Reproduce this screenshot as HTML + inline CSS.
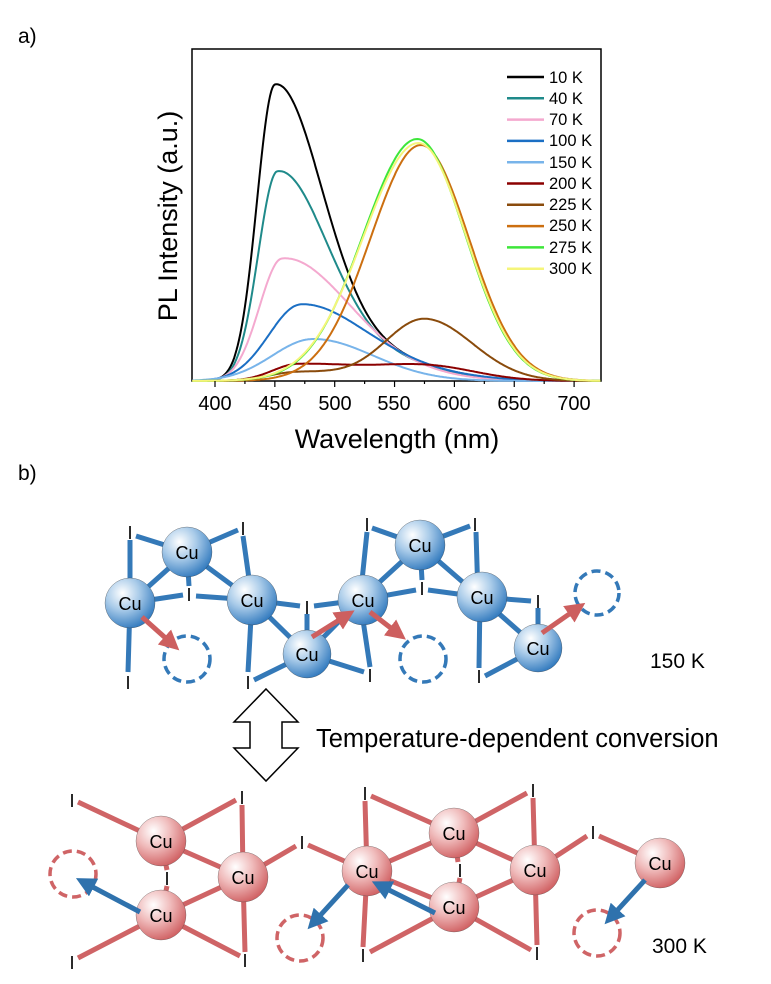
<!DOCTYPE html>
<html><head><meta charset="utf-8"><style>
html,body{margin:0;padding:0;background:#fff;}
svg{display:block;font-family:"Liberation Sans",Arial,sans-serif;}
</style></head><body>
<svg id="s" width="771" height="984" viewBox="0 0 771 984" xmlns="http://www.w3.org/2000/svg">
<defs>
<radialGradient id="gb" cx="0.35" cy="0.3" r="0.75"><stop offset="0" stop-color="#ffffff"/><stop offset="0.45" stop-color="#a9cbe9"/><stop offset="1" stop-color="#2f78bd"/></radialGradient>
<radialGradient id="gr" cx="0.35" cy="0.3" r="0.75"><stop offset="0" stop-color="#ffffff"/><stop offset="0.45" stop-color="#f0bcbc"/><stop offset="1" stop-color="#cf5e60"/></radialGradient>
<marker id="mr" markerWidth="4" markerHeight="4" refX="1.5" refY="2" orient="auto" markerUnits="strokeWidth"><path d="M0,0 L4,2 L0,4 z" fill="#cd5f5f"/></marker>
<marker id="mb" markerWidth="4" markerHeight="4" refX="1.5" refY="2" orient="auto" markerUnits="strokeWidth"><path d="M0,0 L4,2 L0,4 z" fill="#2f72ad"/></marker>
</defs>
<text x="18" y="43" font-size="21">a)</text>
<text x="18" y="480" font-size="21">b)</text>
<rect x="192" y="49" width="409" height="332" fill="none" stroke="#000" stroke-width="1.5"/>
<g id="curves" fill="none" stroke-width="2"></g>
<g id="ticks" stroke="#000" stroke-width="1.2"></g>
<g font-size="20" text-anchor="middle">
<text x="215" y="410">400</text><text x="275" y="410">450</text><text x="335" y="410">500</text><text x="394" y="410">550</text><text x="454" y="410">600</text><text x="514" y="410">650</text><text x="574" y="410">700</text>
</g>
<text x="397" y="448" font-size="27" text-anchor="middle">Wavelength (nm)</text>
<text transform="translate(177,216) rotate(-90)" font-size="27" text-anchor="middle">PL Intensity (a.u.)</text>
<g id="legend"></g>
<g font-size="16.5">
<text x="549" y="83">10 K</text><text x="549" y="104">40 K</text><text x="549" y="125">70 K</text><text x="549" y="146">100 K</text><text x="549" y="168">150 K</text><text x="549" y="189">200 K</text><text x="549" y="210">225 K</text><text x="549" y="231">250 K</text><text x="549" y="253">275 K</text><text x="549" y="274">300 K</text>
</g>
<path fill="none" stroke="#3479b8" stroke-width="5" d="M130 540 L130 603 L128 672 M136 536 L187 552 M187 552 L238 530 M243 536 L252 600 M187 552 L130 603 M187 552 L189 586 M130 603 L183 595 M196 596 L252 600 M187 552 L252 600 M252 600 L248 672 M252 600 L307 654 M252 600 L300 606 M314 606 L360 600 M307 614 L307 654 M307 654 L254 680 M307 654 L364 672 M307 654 L360 600 M367 532 L360 600 M360 600 L370 667 M360 600 L420 545 M372 528 L420 545 M360 600 L416 590 M428 590 L480 597 M420 545 L470 526 M420 545 L480 597 M420 545 L422 580 M476 532 L478 597 M480 597 L531 601 M538 608 L538 648 M480 597 L538 648 M480 597 L479 668 M485 676 L538 648"/>
<g fill="none" stroke="#3479b8" stroke-width="3.5" stroke-dasharray="9 5">
<circle cx="187" cy="659" r="23"/><circle cx="423" cy="659" r="23"/><circle cx="597" cy="593" r="22"/>
</g>
<g stroke="#333" stroke-width="0.3" fill="url(#gb)">
<circle cx="187" cy="552" r="25"/><circle cx="130" cy="603" r="25"/><circle cx="252" cy="600" r="25"/><circle cx="307" cy="654" r="24"/><circle cx="363" cy="600" r="25"/><circle cx="420" cy="545" r="25"/><circle cx="482" cy="597" r="25"/><circle cx="538" cy="648" r="24"/>
</g>
<g stroke="#cd5f5f" stroke-width="5" marker-end="url(#mr)">
<line x1="142" y1="617" x2="170" y2="642"/><line x1="312" y1="637" x2="344" y2="617"/><line x1="370" y1="612" x2="396" y2="632"/><line x1="542" y1="633" x2="575" y2="610"/>
</g>
<g font-size="18" text-anchor="middle">
<text x="187" y="559">Cu</text><text x="130" y="610">Cu</text><text x="252" y="607">Cu</text><text x="307" y="661">Cu</text><text x="363" y="607">Cu</text><text x="420" y="552">Cu</text><text x="482" y="604">Cu</text><text x="538" y="655">Cu</text>
</g>
<g font-size="18" text-anchor="middle">
<text x="130" y="539">I</text><text x="243" y="535">I</text><text x="367" y="531">I</text><text x="475" y="531">I</text><text x="189" y="601">I</text><text x="307" y="614">I</text><text x="422" y="595">I</text><text x="538" y="608">I</text><text x="128" y="689">I</text><text x="248" y="689">I</text><text x="370" y="682">I</text><text x="479" y="683">I</text>
</g>
<text x="650" y="668" font-size="21">150 K</text>
<polygon points="266,689 298,722 282,722 282,748 298,748 266,781 234,748 250,748 250,722 234,722" fill="#fff" stroke="#000" stroke-width="1.5"/>
<text x="316" y="747" font-size="25.5">Temperature-dependent conversion</text>
<path fill="none" stroke="#cf6466" stroke-width="5" d="M78 802 L161 841 L236 800 M242 805 L243 877 M161 841 L243 877 M161 841 L167 870 M167 886 L161 915 M161 915 L243 877 M161 915 L78 958 M161 915 L240 956 M243 877 L245 952 M243 877 L296 846 M308 845 L367 871 M365 801 L367 871 M367 871 L363 947 M371 796 L454 833 L527 793 M367 871 L454 833 M533 798 L535 870 M454 833 L535 870 M454 833 L458 862 M460 878 L454 907 M454 907 L535 870 M454 907 L370 952 M454 907 L531 950 M535 870 L537 945 M535 870 L587 836 M599 836 L660 863 M367 871 L454 907"/>
<g fill="none" stroke="#cf6466" stroke-width="3.5" stroke-dasharray="9 5">
<circle cx="73" cy="874" r="23"/><circle cx="300" cy="938" r="23"/><circle cx="597" cy="933" r="23"/>
</g>
<g stroke="#444" stroke-width="0.3" fill="url(#gr)">
<circle cx="161" cy="841" r="25"/><circle cx="243" cy="877" r="25"/><circle cx="161" cy="915" r="25"/><circle cx="367" cy="871" r="25"/><circle cx="454" cy="833" r="25"/><circle cx="454" cy="907" r="25"/><circle cx="535" cy="870" r="25"/><circle cx="660" cy="863" r="25"/>
</g>
<g stroke="#2f72ad" stroke-width="5" marker-end="url(#mb)">
<line x1="140" y1="912" x2="87" y2="884"/><line x1="348" y1="885" x2="316" y2="920"/><line x1="435" y1="913" x2="383" y2="887"/><line x1="645" y1="880" x2="613" y2="915"/>
</g>
<g font-size="18" text-anchor="middle">
<text x="161" y="848">Cu</text><text x="243" y="884">Cu</text><text x="161" y="922">Cu</text><text x="367" y="878">Cu</text><text x="454" y="840">Cu</text><text x="454" y="914">Cu</text><text x="535" y="877">Cu</text><text x="660" y="870">Cu</text>
</g>
<g font-size="18" text-anchor="middle">
<text x="72" y="807">I</text><text x="242" y="804">I</text><text x="167" y="885">I</text><text x="72" y="969">I</text><text x="245" y="967">I</text><text x="302" y="849">I</text><text x="365" y="800">I</text><text x="533" y="797">I</text><text x="460" y="877">I</text><text x="363" y="962">I</text><text x="537" y="960">I</text><text x="593" y="839">I</text>
</g>
<text x="652" y="953" font-size="21">300 K</text>
</svg>
<script>
(function(){
var NS="http://www.w3.org/2000/svg";
function X(l){return 215+(l-400)*1.197;}
var B=381;
var S=[
["#000000",[[450,290,15,38],[520,30,40,50]]],
["#1f8a8a",[[452,205,16,40],[525,25,40,50]]],
["#f4a9cf",[[456,120,19,50],[530,14,40,50]]],
["#1b6fc4",[[472,76,27,52],[560,8,40,50]]],
["#78b4ea",[[482,42,34,50]]],
["#8b0000",[[470,17,22,60],[580,13,40,40]]],
["#8a4b0c",[[470,9,25,40],[575,62,33,40]]],
["#cc6f10",[[572,236,42,40]]],
["#3ee63a",[[569,242,45,40]]],
["#f5f57a",[[570,238,46,40]]]
];
var g=document.getElementById("curves");
var lg=document.getElementById("legend");
S.forEach(function(s,i){
 var d="";
 for(var l=381;l<=722;l+=1){
  var v=0;
  s[1].forEach(function(c){var sg=l<c[0]?c[2]:c[3];v+=c[1]*Math.exp(-0.5*Math.pow((l-c[0])/sg,2));});
  d+=(l==381?"M":"L")+X(l).toFixed(1)+" "+(B-v).toFixed(1);
 }
 var p=document.createElementNS(NS,"path");p.setAttribute("d",d);p.setAttribute("stroke",s[0]);g.appendChild(p);
 var y=77+i*21.3;
 var ln=document.createElementNS(NS,"line");
 ln.setAttribute("x1",507);ln.setAttribute("x2",544);ln.setAttribute("y1",y);ln.setAttribute("y2",y);
 ln.setAttribute("stroke",s[0]);ln.setAttribute("stroke-width",2.5);lg.appendChild(ln);
});
var t=document.getElementById("ticks");
for(var l=400;l<=700;l+=25){
 var ln=document.createElementNS(NS,"line");
 ln.setAttribute("x1",X(l));ln.setAttribute("x2",X(l));ln.setAttribute("y1",381);ln.setAttribute("y2",l%50==0?387:384);
 t.appendChild(ln);
}
})();
</script>
</body></html>
